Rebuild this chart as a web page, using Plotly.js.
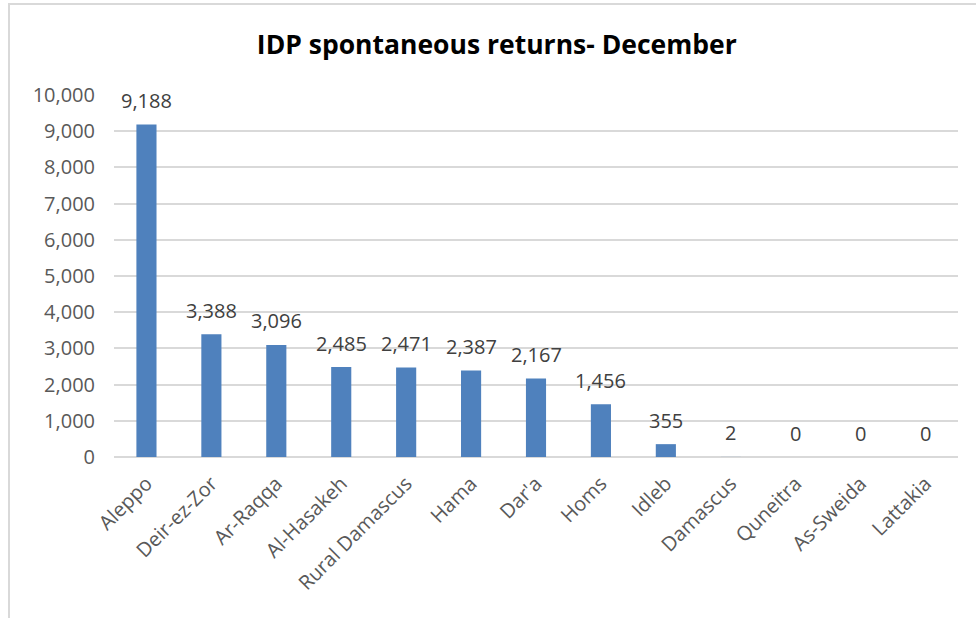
<!DOCTYPE html>
<html><head><meta charset="utf-8">
<script src="https://cdn.plot.ly/plotly-3.0.1.min.js"></script>
<style>
html,body{margin:0;padding:0;background:#fff;}
#frame{position:absolute;left:8px;top:3px;width:980px;height:640px;border-left:2px solid #D9D9D9;border-top:2px solid #D9D9D9;}
#chart{position:absolute;left:0;top:0;width:976px;height:618px;}
</style></head>
<body>
<div id="frame"></div>
<div id="chart"></div>
<script>
const categories = ["Aleppo","Deir-ez-Zor","Ar-Raqqa","Al-Hasakeh","Rural Damascus","Hama","Dar'a","Homs","Idleb","Damascus","Quneitra","As-Sweida","Lattakia"];
const returns = [9188,3388,3096,2485,2471,2387,2167,1456,355,2,0,0,0];
const yTicks = [0,1000,2000,3000,4000,5000,6000,7000,8000,9000,10000];

const fmt = v => v.toLocaleString('en-US');
const font = "'Open Sans', 'Liberation Sans', sans-serif";

const trace = {
  type:'bar', x:categories, y:returns,
  marker:{color:'#4F81BD', line:{color:'#4F81BD', width:0}},
  hoverinfo:'none'
};

const annotations = categories.map((c,i)=>({
  x:c, y:returns[i], xref:'x', yref:'y', text:fmt(returns[i]),
  showarrow:false, yshift:24, yanchor:'middle',
  font:{family:font, size:20, color:'#404040'}
}));

const layout = {
  width:976, height:618,
  margin:{l:114, r:18, t:95, b:161},
  paper_bgcolor:'rgba(0,0,0,0)', plot_bgcolor:'rgba(0,0,0,0)',
  title:{text:'<b>IDP spontaneous returns- December</b>', x:0.509, xanchor:'center', y:1-45/618, yanchor:'middle', font:{family:font, size:26.5, color:'#000'}},
  bargap:0.69,
  showlegend:false,
  xaxis:{type:'category', tickangle:-45, tickfont:{family:font, size:20, color:'#595959'}, showgrid:false, ticks:'', showline:false, automargin:false, ticklabelstandoff:10},
  yaxis:{range:[0,10000], tickvals:yTicks, ticktext:yTicks.map(fmt), tickfont:{family:font, size:20, color:'#595959'},
    showgrid:true, gridcolor:'#D9D9D9', gridwidth:2, zeroline:true, zerolinecolor:'#D9D9D9', zerolinewidth:2, ticks:'', ticklabelstandoff:18, showline:false, automargin:false},
  annotations:annotations
};
Plotly.newPlot('chart',[trace],layout,{displayModeBar:false, staticPlot:true});
</script>
</body></html>
